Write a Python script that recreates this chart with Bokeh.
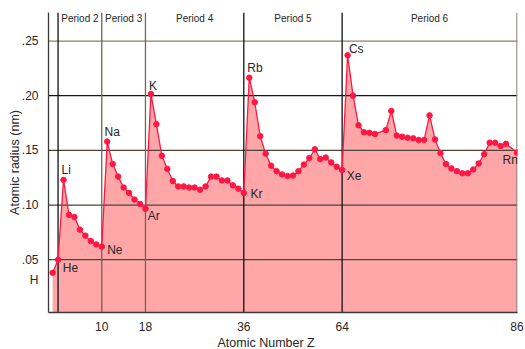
from bokeh.plotting import figure
from bokeh.models import Span, Label, LabelSet, ColumnDataSource, FixedTicker, Title
from bokeh.core.properties import value
from bokeh.embed import file_html
from bokeh.resources import INLINE

# ---- data ----
atomic_number = [1, 2, 3, 4, 5, 6, 7, 8, 9, 10,
                 11, 12, 13, 14, 15, 16, 17, 18,
                 19, 20, 21, 22, 23, 24, 25, 26, 27, 28, 29, 30, 31, 32, 33, 34, 35, 36,
                 37, 38, 39, 40, 41, 42, 43, 44, 45, 46, 47, 48, 49, 50, 51, 52, 53, 54,
                 55, 56, 57, 58, 59, 60, 62, 63, 64, 65, 66, 67, 68, 69, 70, 71,
                 72, 73, 74, 75, 76, 77, 78, 79, 80, 81, 82, 83, 84, 86]
radius_nm = [0.038, 0.050, 0.123, 0.091, 0.089, 0.0775, 0.072, 0.067, 0.064, 0.062,
             0.158, 0.1375, 0.126, 0.116, 0.111, 0.105, 0.101, 0.0965,
             0.2015, 0.174, 0.145, 0.133, 0.122, 0.117, 0.117, 0.116, 0.116, 0.114, 0.117,
             0.126, 0.126, 0.1225, 0.1225, 0.118, 0.115, 0.111,
             0.2165, 0.194, 0.163, 0.147, 0.136, 0.131, 0.128, 0.1265, 0.127, 0.131, 0.137,
             0.143, 0.151, 0.142, 0.1435, 0.139, 0.135, 0.132,
             0.237, 0.200, 0.173, 0.1665, 0.166, 0.165, 0.1685, 0.186, 0.1635, 0.1625,
             0.1615, 0.161, 0.1595, 0.1595, 0.182, 0.160,
             0.1475, 0.1375, 0.1335, 0.131, 0.129, 0.129, 0.1325, 0.138, 0.1465, 0.157,
             0.157, 0.154, 0.156, 0.148]

# labelled elements (H is drawn in the tick-label column, left of the axis)
label_numbers = [2, 3, 10, 11, 18, 19, 36, 37, 54, 55, 86]
label_symbols = ["He", "Li", "Ne", "Na", "Ar", "K", "Kr", "Rb", "Xe", "Cs", "Rn"]
first_symbol = "H"

period_bounds = [2, 10, 18, 36, 54, 86]
period_names = ["Period 2", "Period 3", "Period 4", "Period 5", "Period 6"]

x_ticks = [10, 18, 36, 54, 86]
x_tick_labels = ["10", "18", "36", "64", "86"]
y_ticks = [0.05, 0.10, 0.15, 0.20, 0.25]
y_tick_labels = [".05", ".10", ".15", ".20", ".25"]

# ---- styles ----
FONT = "Liberation Sans"
TEXT = "#262626"
RED = "#ff1744"
PINK = "#ffa6a8"
hline_colors = ["#4a4438", "#4a4438", "#4a4438", "#151515", "#8a8272"]
vline_colors = ["#111111", "#6e6656", "#6e6656", "#111111", "#111111", "#8a8272"]
PX_PER_UNIT_Y = 1111.5
H_LABEL_DROP = 7.3  # px below the H point
lab_dx = [4.7, -2, 5.4, -2.7, 2.4, -2, 6.7, -2, 4.6, 1.3, 1]
lab_dy = [-8.4, 9.4, -3.3, 9.4, -7.6, 8, -1.4, 10, -6, 6.7, -7]
lab_align = ["left", "left", "left", "left", "left", "left", "left", "left", "left", "left", "right"]

p = figure(width=525, height=349, x_range=(0.25, 86.1), y_range=(0.0017, 0.2761),
           output_backend="svg", toolbar_location=None,
           min_border_left=48, min_border_right=8, min_border_top=12, min_border_bottom=32)
p.outline_line_color = None
p.xgrid.visible = False
p.ygrid.visible = False
p.background_fill_color = "white"
p.border_fill_color = "white"

# axes
h_tick = radius_nm[0] - H_LABEL_DROP / PX_PER_UNIT_Y
p.xaxis.ticker = FixedTicker(ticks=x_ticks)
p.xaxis.major_label_overrides = dict(zip(x_ticks, x_tick_labels))
p.yaxis.ticker = FixedTicker(ticks=[h_tick] + y_ticks)
overrides = dict(zip(y_ticks, y_tick_labels))
overrides[h_tick] = first_symbol
p.yaxis.major_label_overrides = overrides
for ax in (p.xaxis[0], p.yaxis[0]):
    ax.axis_line_color = "#3a3a3a"
    ax.axis_line_width = 1.3
    ax.major_tick_line_color = None
    ax.minor_tick_line_color = None
    ax.major_label_text_font = FONT
    ax.major_label_text_font_size = "12px"
    ax.major_label_text_color = TEXT
p.xaxis.major_label_standoff = 3
p.yaxis.major_label_standoff = 4
p.yaxis.axis_label = "Atomic radius (nm)"
p.yaxis.axis_label_standoff = -3
p.yaxis.axis_label_text_font = FONT
p.yaxis.axis_label_text_font_size = "12.5px"
p.yaxis.axis_label_text_font_style = "normal"
p.yaxis.axis_label_text_color = TEXT

p.add_layout(Title(text="Atomic Number Z", align="left", offset=169, standoff=0,
                   text_font=FONT, text_font_size="12.5px", text_font_style="normal",
                   text_color=TEXT), "below")

# fill under curve
p.varea(x=atomic_number, y1=0, y2=radius_nm, fill_color=PINK, level="image")

# grid lines
for loc, col in zip(y_ticks, hline_colors):
    p.add_layout(Span(location=loc, dimension="width", line_color=col, line_width=1.3, level="underlay"))
for loc, col in zip(period_bounds, vline_colors):
    p.add_layout(Span(location=loc, dimension="height", line_color=col, line_width=1.3, level="underlay"))

# series
p.line(atomic_number, radius_nm, line_color=RED, line_width=1.3)
p.scatter(atomic_number, radius_nm, size=5.5, fill_color=RED, line_color=RED)

# element labels
rad_lookup = dict(zip(atomic_number, radius_nm))
for align in ("left", "right"):
    idx = [i for i, a in enumerate(lab_align) if a == align]
    src = ColumnDataSource(dict(
        x=[label_numbers[i] for i in idx],
        y=[rad_lookup[label_numbers[i]] for i in idx],
        text=[label_symbols[i] for i in idx],
        dx=[lab_dx[i] for i in idx],
        dy=[lab_dy[i] for i in idx],
    ))
    p.add_layout(LabelSet(x="x", y="y", text="text", x_offset="dx", y_offset="dy", source=src,
                          text_align=align, text_baseline="middle", text_font=value(FONT),
                          text_font_size="12px", text_color=TEXT))

# period labels
for i, name in enumerate(period_names):
    mid = (period_bounds[i] + period_bounds[i + 1]) / 2
    p.add_layout(Label(x=mid, y=p.y_range.end, y_offset=-6, text=name, text_align="center",
                       text_baseline="middle", text_font=FONT, text_font_size="10px",
                       text_color=TEXT))

open("out.html", "w").write(file_html(p, INLINE))
